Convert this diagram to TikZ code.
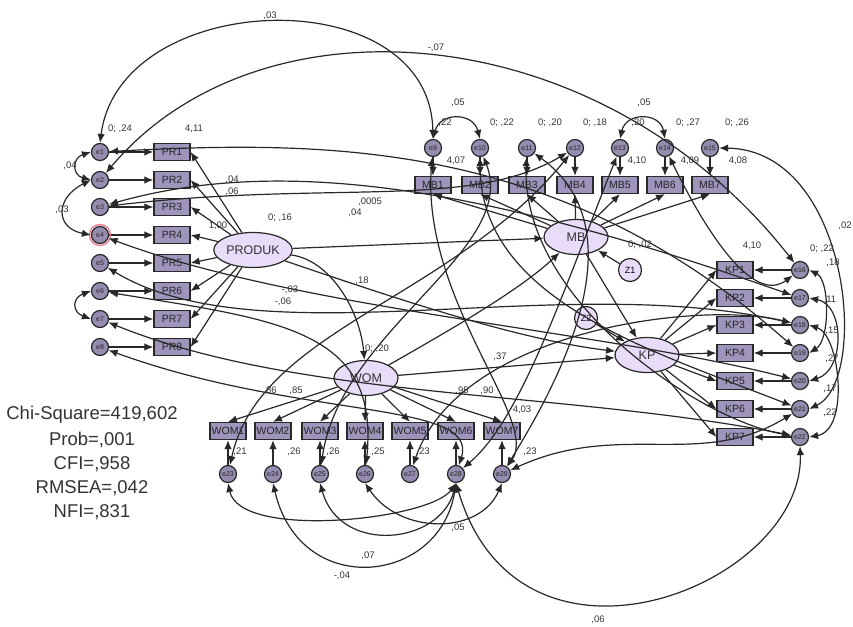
\documentclass[tikz,border=0pt]{standalone}
\usepackage{fontspec}
\setmainfont{Liberation Sans}
\usetikzlibrary{shapes.geometric,arrows.meta}
\definecolor{boxfill}{RGB}{158,148,188}
\definecolor{latfill}{RGB}{232,220,248}
\definecolor{errfill}{RGB}{150,140,176}
\definecolor{pinkring}{RGB}{235,120,140}
\definecolor{ink}{RGB}{40,40,40}
\tikzset{
  obs/.style={draw=ink, line width=1.3pt, fill=boxfill, minimum width=36pt, minimum height=17pt, inner sep=1pt, text=black!85, font=\fontsize{10.5}{11}\selectfont},
  lat/.style={ellipse, draw=ink, fill=latfill, line width=1.2pt, minimum width=64pt, minimum height=35pt, inner sep=1pt, text=black!80, font=\fontsize{12.5}{13}\selectfont},
  err/.style={circle, draw=ink, fill=errfill, line width=1.2pt, minimum size=17pt, inner sep=0pt, text=black!85, font=\fontsize{7}{8}\selectfont},
  dist/.style={circle, draw=ink, fill=latfill, line width=1.2pt, minimum size=23pt, inner sep=0pt, font=\fontsize{9}{10}\selectfont},
  arr/.style={draw=ink, -{Latex[length=9pt,width=7.5pt]}, line width=1.2pt},
  cov/.style={draw=ink, {Latex[length=9pt,width=7.5pt]}-{Latex[length=9pt,width=7.5pt]}, line width=1.2pt},
  lbl/.style={font=\fontsize{9.5}{10}\selectfont, inner sep=0pt, text=black!80},
  stat/.style={font=\fontsize{18.5}{20}\selectfont, inner sep=0pt, text=black!80}
}
\begin{document}
\begin{tikzpicture}[x=1pt,y=-1pt]
\useasboundingbox (0,0) rectangle (853,626);

% latent variables
\node[lat] (produk) at (253,250) {PRODUK};
\node[lat] (mb) at (576,237) {MB};
\node[lat] (kp) at (647,355) {KP};
\node[lat] (wom) at (366,378) {WOM};
\node[dist] (z1) at (630,270) {Z1};
\node[dist] (z2) at (586,318) {Z2};

% PRODUK block
\foreach \i/\y in {1/152,2/180,3/207,4/235,5/263,6/291,7/319,8/347}{
  \node[obs] (pr\i) at (172,\y) {PR\i};
  \node[err] (ep\i) at (100,\y) {e\i};
  \draw[arr] (ep\i) -- (pr\i);
  \draw[arr] (produk) -- (pr\i.east);
}
\draw[pinkring, line width=1.3pt] (ep4) circle (10.5pt);

% MB block
\foreach \i/\x in {1/433,2/480,3/527,4/575,5/620,6/665,7/710}{
  \node[obs] (mb\i) at (\x,185) {MB\i};
  \node[err] (em\i) at (\x,148) {e\the\numexpr\i+8\relax};
  \draw[arr] (em\i) -- (mb\i);
  \draw[arr] (mb) -- (mb\i.south);
}

% KP block
\foreach \i/\y in {1/270,2/298,3/325,4/353,5/381,6/409,7/437}{
  \node[obs] (kp\i) at (735,\y) {KP\i};
  \node[err] (ek\i) at (800,\y) {e\the\numexpr\i+15\relax};
  \draw[arr] (ek\i) -- (kp\i);
  \draw[arr] (kp) -- (kp\i.west);
}

% WOM block
\foreach \i/\x in {1/228,2/273,3/320,4/365,5/410,6/456,7/502}{
  \node[obs] (wo\i) at (\x,431) {WOM\i};
  \node[err] (ew\i) at (\x,474) {e\the\numexpr\i+22\relax};
  \draw[arr] (ew\i) -- (wo\i);
  \draw[arr] (wom) -- (wo\i.north);
}

% structural paths
\draw[arr] (produk) -- (mb);
\draw[arr] (produk) .. controls (330,260) and (360,310) .. (wom);
\draw[arr] (produk) .. controls (400,300) and (520,340) .. (kp);
\draw[arr] (wom) .. controls (450,330) and (520,290) .. (mb);
\draw[arr] (wom) -- (kp);
\draw[arr] (mb) -- (kp);
\draw[arr] (z1) -- (mb);
\draw[arr] (z2) -- (kp);

% covariances among errors
\draw[cov] (ep1.north) .. controls (120,-12) and (430,-22) .. (em1.north);
\draw[cov] (ep2) .. controls (260,-10) and (600,15) .. (ek1);
\draw[cov] (ep1.west) .. controls (72,158) and (72,175) .. (ep2.west);
\draw[cov] (ep2.west) .. controls (55,198) and (55,228) .. (ep4.west);
\draw[cov] (ep6.west) .. controls (72,298) and (72,312) .. (ep7.west);
\draw[cov] (em1.north) .. controls (440,112) and (473,112) .. (em2.north);
\draw[cov] (em5.north) .. controls (626,112) and (660,112) .. (em6.north);
\draw[cov] (ew6.south) .. controls (520,700) and (805,585) .. (ek7.south);
\draw[cov] (ew2.south) .. controls (300,600) and (440,585) .. (ew6.south);
\draw[cov] (ew3.south) .. controls (340,555) and (440,545) .. (ew6.south);
\draw[cov] (ew4.south) .. controls (400,535) and (480,535) .. (ew7.south);
\draw[cov] (ew1.south) .. controls (240,540) and (430,520) .. (ew6.south);
\draw[cov] (em7.east) .. controls (850,150) and (870,380) .. (ek6.east);
\draw[cov] (ek2.east) .. controls (845,305) and (845,370) .. (ek5.east);
\draw[cov] (ek1.east) .. controls (830,280) and (830,340) .. (ek4.east);
\draw[cov] (ek3.east) .. controls (840,335) and (850,430) .. (ek7.east);
% long crossing covariances
\draw[cov] (ep3) .. controls (300,150) and (520,200) .. (ek2);
\draw[cov] (ep4) .. controls (300,310) and (600,330) .. (ek5);
\draw[cov] (ep5) .. controls (260,360) and (560,270) .. (ek3);
\draw[cov] (ep1) .. controls (330,140) and (560,140) .. (ek4);
\draw[cov] (em2) .. controls (480,300) and (650,350) .. (ek6);
\draw[cov] (ew7) .. controls (560,380) and (640,230) .. (em3);
\draw[cov] (ew1) .. controls (260,330) and (450,300) .. (em4);
\draw[cov] (ew5) .. controls (460,330) and (700,300) .. (ek3);
\draw[cov] (em1) .. controls (420,300) and (540,420) .. (ew7);
\draw[cov] (ep7) .. controls (300,400) and (560,390) .. (ek7);
\draw[cov] (ep8) .. controls (300,420) and (480,400) .. (ew6);
\draw[cov] (em3) .. controls (520,300) and (700,420) .. (ek7);
\draw[cov] (em5) .. controls (560,300) and (520,420) .. (ew6);
\draw[cov] (em6) .. controls (720,260) and (760,300) .. (ek1);
\draw[cov] (ew3) .. controls (340,330) and (520,250) .. (em2);
\draw[cov] (ep6) .. controls (280,320) and (380,330) .. (ew4);
\draw[cov] (ep3) .. controls (330,180) and (470,210) .. (em4);
\draw[cov] (ew7) .. controls (620,420) and (700,470) .. (ek6);

% labels
\node[lbl] (l1) at (270,16) {,03};
\node[lbl] (l2) at (436,48) {-,07};
\node[lbl] (l3) at (120,129) {0; ,24};
\node[lbl] (l4) at (194,129) {4,11};
\node[lbl] (l5) at (70,166) {,04};
\node[lbl] (l6) at (62,210) {,03};
\node[lbl] (l7) at (232,180) {,04};
\node[lbl] (l8) at (232,192) {,06};
\node[lbl] (l9) at (218,226) {1,00};
\node[lbl] (l10) at (280,218) {0; ,16};
\node[lbl] (l11) at (290,290) {-,03};
\node[lbl] (l12) at (283,302) {-,06};
\node[lbl] (l13) at (370,202) {,0005};
\node[lbl] (l14) at (355,213) {,04};
\node[lbl] (l15) at (362,281) {,18};
\node[lbl] (l16) at (458,103) {,05};
\node[lbl] (l17) at (644,103) {,05};
\node[lbl] (l18) at (445,123) {,22};
\node[lbl] (l19) at (502,123) {0; ,22};
\node[lbl] (l20) at (550,123) {0; ,20};
\node[lbl] (l21) at (595,123) {0; ,18};
\node[lbl] (l22) at (638,123) {,20};
\node[lbl] (l23) at (688,123) {0; ,27};
\node[lbl] (l24) at (737,123) {0; ,26};
\node[lbl] (l25) at (456,161) {4,07};
\node[lbl] (l26) at (637,161) {4,10};
\node[lbl] (l27) at (690,161) {4,09};
\node[lbl] (l28) at (738,161) {4,08};
\node[lbl] (l29) at (640,245) {0; ,02};
\node[lbl] (l30) at (752,246) {4,10};
\node[lbl] (l31) at (822,249) {0; ,22};
\node[lbl] (l32) at (833,263) {,18};
\node[lbl] (l33) at (830,300) {,11};
\node[lbl] (l34) at (832,331) {,15};
\node[lbl] (l35) at (832,359) {,27};
\node[lbl] (l36) at (830,389) {,17};
\node[lbl] (l37) at (830,413) {,22};
\node[lbl] (l38) at (845,226) {,02};
\node[lbl] (l39) at (377,349) {0; ,20};
\node[lbl] (l40) at (500,357) {,37};
\node[lbl] (l41) at (270,391) {,86};
\node[lbl] (l42) at (296,391) {,85};
\node[lbl] (l43) at (462,391) {,95};
\node[lbl] (l44) at (487,391) {,90};
\node[lbl] (l45) at (522,410) {4,03};
\node[lbl] (l46) at (240,452) {,21};
\node[lbl] (l47) at (294,452) {,26};
\node[lbl] (l48) at (333,452) {,26};
\node[lbl] (l49) at (378,452) {,25};
\node[lbl] (l50) at (423,452) {,23};
\node[lbl] (l51) at (530,452) {,23};
\node[lbl] (l52) at (458,528) {,05};
\node[lbl] (l53) at (368,556) {,07};
\node[lbl] (l54) at (342,576) {-,04};
\node[lbl] (l55) at (598,620) {,06};

% fit statistics
\node[stat] (s1) at (92,415) {Chi-Square=419,602};
\node[stat] (s2) at (92,440) {Prob=,001};
\node[stat] (s3) at (92,464) {CFI=,958};
\node[stat] (s4) at (92,488) {RMSEA=,042};
\node[stat] (s5) at (92,512) {NFI=,831};
\end{tikzpicture}
\end{document}
